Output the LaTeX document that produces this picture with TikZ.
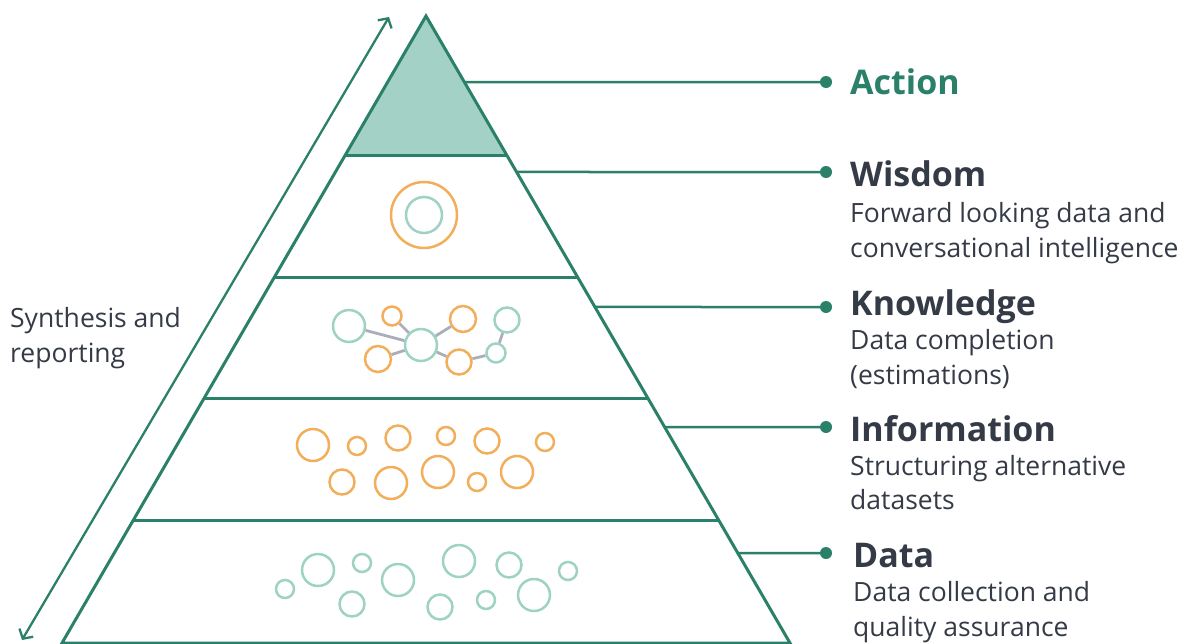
\documentclass[tikz,border=0pt]{standalone}
\usepackage{fontspec}
\setmainfont{Open Sans}
\usetikzlibrary{calc,arrows.meta}
\definecolor{pgreen}{HTML}{2A8068}
\definecolor{pfill}{HTML}{A3D1C6}
\definecolor{pteal}{HTML}{9ED2C3}
\definecolor{porange}{HTML}{F3AE5B}
\definecolor{pdark}{HTML}{343A46}
\definecolor{pgray}{HTML}{AAAEBB}
\tikzset{
  pyr/.style={draw=pgreen,line width=3pt,line join=miter},
  leader/.style={draw=pgreen,line width=2.5pt},
  ldot/.style={circle,fill=pgreen,inner sep=0pt,minimum size=12pt},
  tc/.style={circle,draw=pteal,line width=2.5pt,inner sep=0pt,minimum size=#1},
  oc/.style={circle,draw=porange,line width=2.5pt,inner sep=0pt,minimum size=#1},
  edge/.style={draw=pgray,line width=2.8pt},
  title/.style={anchor=base west,inner sep=0pt,font=\fontsize{34}{34}\selectfont\bfseries,text=pdark},
  sub/.style={anchor=base west,inner sep=0pt,font=\fontsize{26.5}{35}\selectfont,text=pdark,align=left},
}
\begin{document}
\begin{tikzpicture}[x=1pt,y=-1pt]
\useasboundingbox (0,0) rectangle (1180,643);
% pyramid geometry
\coordinate (apex) at (426,16);
\coordinate (bl) at (62,643);
\coordinate (br) at (790,643);
\coordinate (l1) at ($(apex)!0.2217!(bl)$);
\coordinate (r1) at ($(apex)!0.2217!(br)$);
\coordinate (l2) at ($(apex)!0.4163!(bl)$);
\coordinate (r2) at ($(apex)!0.4163!(br)$);
\coordinate (l3) at ($(apex)!0.6108!(bl)$);
\coordinate (r3) at ($(apex)!0.6108!(br)$);
\coordinate (l4) at ($(apex)!0.8054!(bl)$);
\coordinate (r4) at ($(apex)!0.8054!(br)$);
% top filled triangle
\fill[pfill] (apex) -- (l1) -- (r1) -- cycle;
% level lines
\draw[pyr] (l1) -- (r1);
\draw[pyr] (l2) -- (r2);
\draw[pyr] (l3) -- (r3);
\draw[pyr] (l4) -- (r4);
\draw[pyr] (bl) -- (apex) -- (br) -- cycle;
% leader start points on right edge
\coordinate (sa) at ($(apex)!0.1053!(br)$);
\coordinate (sw) at ($(apex)!0.2488!(br)$);
\coordinate (sk) at ($(apex)!0.4641!(br)$);
\coordinate (si) at ($(apex)!0.6555!(br)$);
\coordinate (sd) at ($(apex)!0.8565!(br)$);
\node[ldot] (da) at (826,82) {};
\node[ldot] (dw) at (826,172) {};
\node[ldot] (dk) at (826,307) {};
\node[ldot] (di) at (826,427) {};
\node[ldot] (dd) at (826,553) {};
\draw[leader] (sa) -- (da.center);
\draw[leader] (sw) -- (dw.center);
\draw[leader] (sk) -- (dk.center);
\draw[leader] (si) -- (di.center);
\draw[leader] (sd) -- (dd.center);
% labels
\node[title,text=pgreen] (ta) at (850,94) {Action};
\node[title] (tw) at (850,186) {Wisdom};
\node[sub] (sw1) at (850,222) {Forward looking data and};
\node[sub] (sw2) at (850,257) {conversational intelligence};
\node[title] (tk) at (850,315) {Knowledge};
\node[sub] (sk1) at (850,349) {Data completion};
\node[sub] (sk2) at (850,384) {(estimations)};
\node[title] (ti) at (850,441) {Information};
\node[sub] (si1) at (850,475) {Structuring alternative};
\node[sub] (si2) at (850,509) {datasets};
\node[title] (td) at (853,567) {Data};
\node[sub] (sd1) at (853,601) {Data collection and};
\node[sub] (sd2) at (853,636) {quality assurance};
% left arrow and label
\coordinate (ab) at (22,640);
\coordinate (at) at (389,17);
\draw[draw=pgreen,line width=2.3pt,{Straight Barb[length=7pt,width=16pt]}-{Straight Barb[length=7pt,width=16pt]}] (ab) -- (at);
\node[sub] (syn1) at (10,327) {Synthesis and};
\node[sub] (syn2) at (10,362) {reporting};
% wisdom circles
\node[oc=66pt] (w1) at (424,215) {};
\node[tc=36pt] (w2) at (424,215) {};
% knowledge network
\node[tc=32pt] (k1) at (349,326) {};
\node[oc=19pt] (k2) at (392,316) {};
\node[oc=26pt] (k3) at (463,319) {};
\node[tc=25pt] (k4) at (507,320) {};
\node[oc=26pt] (k5) at (378,359) {};
\node[tc=32pt] (k6) at (421,345) {};
\node[oc=25pt] (k7) at (459,362) {};
\node[tc=19pt] (k8) at (496,353) {};
\draw[edge] (k1) -- (k6);
\draw[edge] (k2) -- (k6);
\draw[edge] (k3) -- (k6);
\draw[edge] (k5) -- (k6);
\draw[edge] (k6) -- (k7);
\draw[edge] (k7) -- (k8);
\draw[edge] (k8) -- (k4);
% information circles
\node[oc=32pt] (i1) at (313,445) {};
\node[oc=18pt] (i2) at (357,446) {};
\node[oc=25pt] (i3) at (398,438) {};
\node[oc=18pt] (i4) at (446,436) {};
\node[oc=25pt] (i5) at (487,441) {};
\node[oc=18pt] (i6) at (545,442) {};
\node[oc=25pt] (i7) at (342,482) {};
\node[oc=32pt] (i8) at (391,483) {};
\node[oc=32pt] (i9) at (438,472) {};
\node[oc=18pt] (i10) at (477,482) {};
\node[oc=32pt] (i11) at (517,472) {};
% data circles
\node[tc=18pt] (d1) at (285,589) {};
\node[tc=32pt] (d2) at (318,570) {};
\node[tc=18pt] (d3) at (362,563) {};
\node[tc=25pt] (d4) at (352,604) {};
\node[tc=32pt] (d5) at (398,580) {};
\node[tc=32pt] (d6) at (459,561) {};
\node[tc=25pt] (d7) at (440,607) {};
\node[tc=25pt] (d8) at (509,565) {};
\node[tc=18pt] (d9) at (486,600) {};
\node[tc=32pt] (d10) at (534,595) {};
\node[tc=18pt] (d11) at (568,571) {};
\end{tikzpicture}
\end{document}
